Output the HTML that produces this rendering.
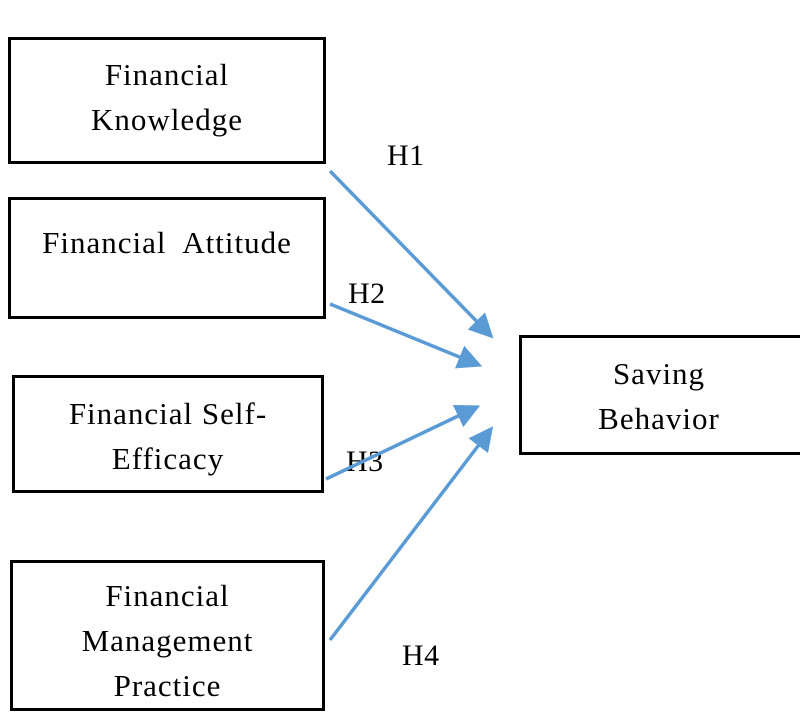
<!DOCTYPE html>
<html><head><meta charset="utf-8"><style>
body{margin:0;background:#fff;width:800px;height:726px;overflow:hidden;position:relative;font-family:"Liberation Serif",serif;}
.b{position:absolute;border:3px solid #000;box-sizing:border-box;text-align:center;font-size:31px;letter-spacing:1px;color:#000;}
.t{position:absolute;font-size:30px;letter-spacing:0.5px;}
</style></head><body>
<div class="b" style="left:8px;top:37px;width:318px;height:127px;line-height:45px;padding-top:12px">Financial<br>Knowledge</div>
<div class="b" style="left:8px;top:197px;width:318px;height:122px;line-height:45px;padding-top:20px">Financial&nbsp; Attitude</div>
<div class="b" style="left:12px;top:375px;width:312px;height:118px;line-height:45px;padding-top:13px">Financial Self-<br>Efficacy</div>
<div class="b" style="left:10px;top:560px;width:315px;height:151px;line-height:45px;padding-top:10px">Financial<br>Management<br>Practice</div>
<div class="b" style="left:519px;top:335px;width:290px;height:120px;line-height:45px;padding-top:13px;padding-right:10px">Saving<br>Behavior</div>
<div class="t" style="left:387px;top:139px">H1</div>
<div class="t" style="left:348px;top:277px">H2</div>
<div class="t" style="left:346px;top:445px">H3</div>
<div class="t" style="left:402px;top:639px">H4</div>
<svg width="800" height="726" style="position:absolute;left:0;top:0">
<defs><marker id="a" markerWidth="7" markerHeight="7" refX="6" refY="3.5" orient="auto" markerUnits="strokeWidth"><path d="M0,0 L7,3.5 L0,7 z" fill="#5b9bd5"/></marker></defs>
<g stroke="#5b9bd5" stroke-width="3.5" fill="none" marker-end="url(#a)">
<line x1="330" y1="171" x2="491" y2="336"/>
<line x1="330" y1="304" x2="479" y2="365"/>
<line x1="326" y1="479" x2="477" y2="407"/>
<line x1="330" y1="640" x2="491" y2="429"/>
</g></svg>
</body></html>
